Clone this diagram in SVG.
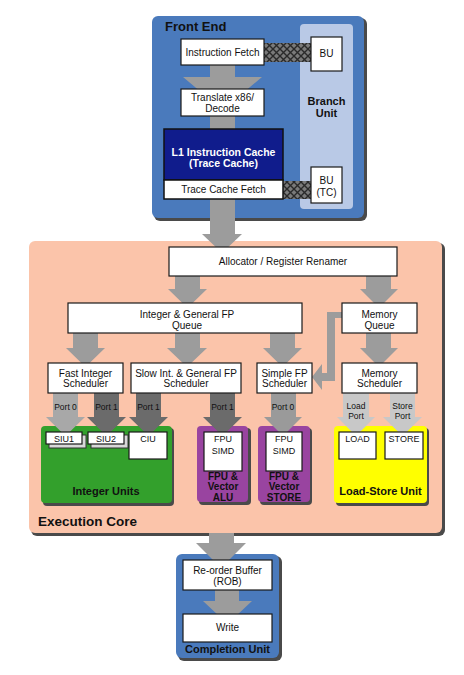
<svg xmlns="http://www.w3.org/2000/svg" width="464" height="675" viewBox="0 0 464 675">
<defs>
<pattern id="hatch" width="7" height="7" patternUnits="userSpaceOnUse">
<rect width="7" height="7" fill="#7a7a7a"/>
<path d="M0,0 L7,7 M7,0 L0,7" stroke="#2a2a2a" stroke-width="1.4"/>
</pattern>
<style>
.box{fill:#fff;stroke:#1a1a1a;stroke-width:1.2}
.shadow{fill:#4a4a4a}
.t{font-family:"Liberation Sans",Arial,sans-serif;font-size:10px;fill:#111;text-anchor:middle}
.ts{font-family:"Liberation Sans",Arial,sans-serif;font-size:9px;fill:#111;text-anchor:middle}
.tp{font-family:"Liberation Sans",Arial,sans-serif;font-size:8.5px;fill:#111;text-anchor:middle}
.b{font-family:"Liberation Sans",Arial,sans-serif;font-weight:bold;font-size:11px;fill:#111;text-anchor:middle}
.bu{font-family:"Liberation Sans",Arial,sans-serif;font-weight:bold;font-size:10px;fill:#111;text-anchor:middle}
.title{font-family:"Liberation Sans",Arial,sans-serif;font-weight:bold;font-size:13.5px;fill:#111}
.arrow{fill:#9c9c9c}
.dark{fill:#6b6b6b}
.mid{fill:#9a9a9a}
.light{fill:#a8a8a8}
.pale{fill:#c8c8c8}
</style>
</defs>
<rect width="464" height="675" fill="#fff"/>

<!-- Containers -->
<g id="front-end">
<rect class="shadow" x="154" y="18" width="213" height="203" rx="6"/>
<rect x="152" y="16" width="212" height="202" rx="6" fill="#4a7abc"/>
<text class="title" x="165" y="31" style="font-size:13px">Front End</text>
</g>
<g id="branch-unit">
<rect x="300" y="24" width="53" height="185" rx="4" fill="#b9c9e6"/>
<text class="b" x="326.5" y="105">Branch</text>
<text class="b" x="326.5" y="116.5">Unit</text>
</g>
<g id="execution-core">
<rect class="shadow" x="31" y="243" width="414" height="293" rx="6"/>
<rect x="29" y="241" width="413" height="292" rx="6" fill="#fbc4aa"/>
<text class="title" x="38" y="526">Execution Core</text>
</g>
<g id="completion-unit">
<rect class="shadow" x="178" y="556" width="104" height="105" rx="6"/>
<rect x="176" y="554" width="103" height="104" rx="6" fill="#4a7abc"/>
<text class="b" x="227.5" y="653">Completion Unit</text>
</g>
<g id="integer-units">
<rect class="shadow" x="43" y="428" width="131" height="78" rx="4"/>
<rect x="41" y="426" width="131" height="77" rx="4" fill="#33a02c"/>
<text class="b" x="106" y="495">Integer Units</text>
</g>
<g id="fpu-alu">
<rect class="shadow" x="199" y="428" width="52" height="77" rx="4"/>
<rect x="197" y="426" width="51" height="76" rx="4" fill="#9944a0"/>
<text class="bu" x="223" y="479.5">FPU &amp;</text>
<text class="bu" x="223" y="490">Vector</text>
<text class="bu" x="223" y="500.5">ALU</text>
</g>
<g id="fpu-store">
<rect class="shadow" x="260" y="428" width="52" height="77" rx="4"/>
<rect x="258" y="426" width="52" height="76" rx="4" fill="#9944a0"/>
<text class="bu" x="284" y="479.5">FPU &amp;</text>
<text class="bu" x="284" y="490">Vector</text>
<text class="bu" x="284" y="500.5">STORE</text>
</g>
<g id="load-store-unit">
<rect class="shadow" x="336" y="428" width="93" height="78" rx="4"/>
<rect x="334" y="426" width="93" height="77" rx="4" fill="#ffff00"/>
<text class="b" x="380.5" y="495">Load-Store Unit</text>
</g>

<!-- Connectors -->
<g id="connectors">
<rect x="264" y="43" width="47" height="19" fill="url(#hatch)"/>
<rect x="283" y="181" width="28" height="18" fill="url(#hatch)"/>
<polygon class="arrow" points="210,65 235,65 235,77 262,77 222.5,110 183,77 210,77"/>
<rect class="arrow" x="210" y="116" width="25" height="14"/>
<polygon class="arrow" points="210,199 235,199 235,234 242,234 222,253 202,234 210,234"/>
<polygon class="arrow" points="175,276 200,276 200,289 207,289 187.5,308 168,289 175,289"/>
<polygon class="arrow" points="366,276 391,276 391,289 398,289 379,308 360,289 366,289"/>
<polygon class="arrow" points="73,332 98,332 98,348 105,348 85.5,367 66,348 73,348"/>
<polygon class="arrow" points="175,332 200,332 200,348 207,348 187,367 167,348 175,348"/>
<polygon class="arrow" points="270,332 295,332 295,348 302,348 282.5,367 263,348 270,348"/>
<polygon class="arrow" points="366,332 391,332 391,348 398,348 379,367 360,348 366,348"/>
<polygon class="arrow" points="342,312 327,312 327,373 322,373 322,364 312,377 322,390 322,381 335,381 335,318 342,318"/>
<polygon class="light" points="53,392 78,392 78,417 85,417 65.5,436 46,417 53,417"/>
<polygon class="dark" points="94,392 119,392 119,417 126,417 106.5,436 87,417 94,417"/>
<polygon class="dark" points="136,392 161,392 161,417 168,417 148.5,436 129,417 136,417"/>
<polygon class="dark" points="210,392 235,392 235,417 242,417 222.5,436 203,417 210,417"/>
<polygon class="mid" points="271,392 296,392 296,417 302,417 283,436 264,417 271,417"/>
<polygon class="pale" points="343,392 369,392 369,417 375,417 356,436 337,417 343,417"/>
<polygon class="pale" points="390,392 415,392 415,417 422,417 402.5,436 383,417 390,417"/>
<text class="tp" x="65.5" y="410">Port 0</text>
<text class="tp" x="106.5" y="410">Port 1</text>
<text class="tp" x="148.5" y="410">Port 1</text>
<text class="tp" x="222.5" y="410">Port 1</text>
<text class="tp" x="283" y="410">Port 0</text>
<text class="tp" x="356" y="409">Load</text>
<text class="tp" x="356" y="419">Port</text>
<text class="tp" x="402.5" y="409">Store</text>
<text class="tp" x="402.5" y="419">Port</text>
<polygon class="arrow" points="209,533 234,533 234,543 246,543 221,568 196,543 209,543"/>
<polygon class="arrow" points="215,590 239,590 239,601 252,601 227.5,624 203,601 215,601"/>
</g>

<!-- Nodes -->
<g id="instruction-fetch">
<rect class="box" x="181" y="39" width="83" height="26"/>
<text class="t" x="222.5" y="55.5">Instruction Fetch</text>
</g>
<g id="bu">
<rect class="box" x="311" y="37" width="31" height="34"/>
<text class="t" x="326.5" y="57">BU</text>
</g>
<g id="translate">
<rect class="box" x="181" y="89" width="83" height="27"/>
<text class="t" x="222.5" y="101">Translate x86/</text>
<text class="t" x="222.5" y="111.5">Decode</text>
</g>
<g id="l1-cache">
<rect x="164" y="129" width="119" height="51" fill="#101c8c" stroke="#111" stroke-width="1.5"/>
<text class="b" x="223.5" y="155.5" style="fill:#fff;font-size:10.5px">L1 Instruction Cache</text>
<text class="b" x="223.5" y="167" style="fill:#fff;font-size:10.5px">(Trace Cache)</text>
</g>
<g id="trace-cache-fetch">
<rect x="164" y="180" width="119" height="19" fill="#fff" stroke="#111" stroke-width="1.5"/>
<text class="t" x="223.5" y="193">Trace Cache Fetch</text>
</g>
<g id="bu-tc">
<rect class="box" x="311" y="167" width="31" height="36"/>
<text class="t" x="326.5" y="184">BU</text>
<text class="t" x="326.5" y="196">(TC)</text>
</g>
<g id="allocator">
<rect class="box" x="169" y="247" width="228" height="29"/>
<text class="t" x="283" y="265">Allocator / Register Renamer</text>
</g>
<g id="int-fp-queue">
<rect class="box" x="68" y="303" width="234" height="30"/>
<text class="t" x="187" y="318">Integer &amp; General FP</text>
<text class="t" x="187" y="328.5">Queue</text>
</g>
<g id="memory-queue">
<rect class="box" x="342" y="303" width="75" height="30"/>
<text class="t" x="379.5" y="318">Memory</text>
<text class="t" x="379.5" y="328.5">Queue</text>
</g>
<g id="fast-int-scheduler">
<rect class="box" x="48" y="363" width="75" height="30"/>
<text class="t" x="85.5" y="376.5">Fast Integer</text>
<text class="t" x="85.5" y="387">Scheduler</text>
</g>
<g id="slow-int-scheduler">
<rect class="box" x="131" y="363" width="110" height="30"/>
<text class="t" x="186" y="376.5">Slow Int. &amp; General FP</text>
<text class="t" x="186" y="387">Scheduler</text>
</g>
<g id="simple-fp-scheduler">
<rect class="box" x="257" y="363" width="55" height="30"/>
<text class="t" x="284.5" y="376.5">Simple FP</text>
<text class="t" x="284.5" y="387">Scheduler</text>
</g>
<g id="memory-scheduler">
<rect class="box" x="342" y="363" width="75" height="30"/>
<text class="t" x="379.5" y="376.5">Memory</text>
<text class="t" x="379.5" y="387">Scheduler</text>
</g>
<g id="siu1">
<rect x="49" y="435" width="37" height="13" fill="#d8d8d8" stroke="#333" stroke-width="1"/>
<rect class="box" x="46" y="432" width="36" height="12"/>
<text class="ts" x="64" y="442">SIU1</text>
</g>
<g id="siu2">
<rect x="91" y="435" width="37" height="13" fill="#d8d8d8" stroke="#333" stroke-width="1"/>
<rect class="box" x="88" y="432" width="36" height="12"/>
<text class="ts" x="106" y="442">SIU2</text>
</g>
<g id="ciu">
<rect class="box" x="129" y="432" width="38" height="27"/>
<text class="ts" x="148" y="442">CIU</text>
</g>
<g id="fpu-simd-alu">
<rect class="box" x="204" y="432" width="38" height="39"/>
<text class="ts" x="223" y="442">FPU</text>
<text class="ts" x="223" y="453.5">SIMD</text>
</g>
<g id="fpu-simd-store">
<rect class="box" x="266" y="432" width="36" height="39"/>
<text class="ts" x="284" y="442">FPU</text>
<text class="ts" x="284" y="453.5">SIMD</text>
</g>
<g id="load">
<rect class="box" x="339" y="432" width="37" height="27"/>
<text class="ts" x="357.5" y="442">LOAD</text>
</g>
<g id="store">
<rect class="box" x="385" y="432" width="38" height="27"/>
<text class="ts" x="404" y="442">STORE</text>
</g>
<g id="rob">
<rect class="box" x="183" y="560" width="89" height="30"/>
<text class="t" x="227.5" y="573.5">Re-order Buffer</text>
<text class="t" x="227.5" y="584.5">(ROB)</text>
</g>
<g id="write">
<rect class="box" x="183" y="614" width="89" height="28"/>
<text class="t" x="227.5" y="631">Write</text>
</g>
</svg>
